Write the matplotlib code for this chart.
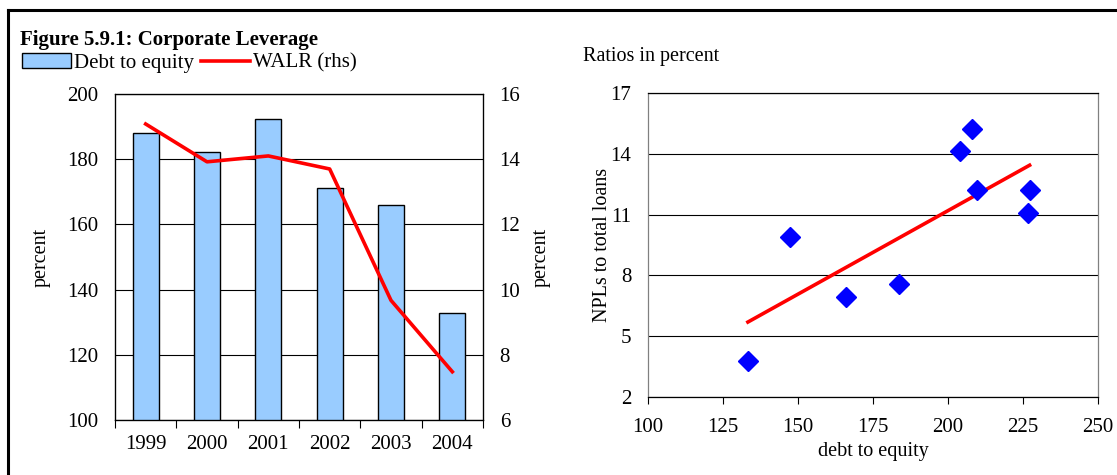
import numpy as np
import matplotlib
matplotlib.use("Agg")
import matplotlib.pyplot as plt
from matplotlib.lines import Line2D
from matplotlib.patches import Patch

plt.rcParams["font.family"] = ["Liberation Serif", "DejaVu Serif"]

# ── Data ──────────────────────────────────────────────────────────────
years        = ["1999", "2000", "2001", "2002", "2003", "2004"]
debt_equity  = [188.0, 182.1, 192.4, 171.2, 166.1, 132.8]   # lhs, percent
walr         = [15.08, 13.92, 14.10, 13.70, 9.67, 7.48]     # rhs, percent

scatter_de   = [133.3, 147.2, 165.9, 183.5, 204.1, 208.0, 209.8, 227.2, 226.8]
scatter_npl  = [3.76, 9.88, 6.92, 7.58, 14.12, 15.22, 12.23, 12.20, 11.08]

BAR_COLOR  = "#99CCFF"
LINE_COLOR = "#FF0000"
DOT_COLOR  = "#0000FF"
FS = 15      # tick labels
LFS = 14.5   # axis labels / legend

fig = plt.figure(figsize=(11.17, 4.75), dpi=100)
fig.patch.set_facecolor("white")
W, H = 1117, 475

# outer frame (top and left edges)
fig.add_artist(Line2D([8 / W, 1.0], [1 - 10 / H, 1 - 10 / H], color="black", lw=2.2,
                      transform=fig.transFigure))
fig.add_artist(Line2D([8 / W, 8 / W], [1 - 10 / H, 0.0], color="black", lw=2.2,
                      transform=fig.transFigure))

# ── Left: bars + WALR line ────────────────────────────────────────────
ax = fig.add_axes([115 / W, 1 - 420 / H, 368 / W, 326 / H])
x = np.arange(len(years))
ax.bar(x, debt_equity, width=0.42, color=BAR_COLOR, edgecolor="black", lw=1.0, zorder=2)
ax.set_xlim(-0.5, len(years) - 0.5)
ax.set_ylim(100, 200)
ax.set_yticks(np.arange(100, 201, 20))
ax.set_xticks(x)
ax.set_xticklabels(years)
ax.set_xticks(np.arange(-0.5, len(years)), minor=True)
ax.tick_params(axis="x", which="major", length=0, pad=11, labelsize=FS)
ax.tick_params(axis="x", which="minor", length=6, direction="out", width=0.8)
ax.tick_params(axis="y", length=0, pad=12, labelsize=FS)
ax.grid(axis="y", color="black", lw=0.8, zorder=0)
ax.set_axisbelow(True)
for sp in ax.spines.values():
    sp.set_color("black")
    sp.set_linewidth(0.9)
ax.set_ylabel("percent", fontsize=LFS, labelpad=12)

ax2 = ax.twinx()
ax2.plot(x, walr, color=LINE_COLOR, lw=2.6, zorder=3)
ax2.set_ylim(6, 16)
ax2.set_yticks(np.arange(6, 17, 2))
ax2.tick_params(axis="y", length=0, pad=12, labelsize=FS)
ax2.set_ylabel("percent", fontsize=LFS, labelpad=8)

fig.text(20 / W, 1 - 40 / H, "Figure 5.9.1: Corporate Leverage", fontsize=15,
         fontweight="bold", va="center", ha="left")
handles = [Patch(facecolor=BAR_COLOR, edgecolor="black", lw=1.0),
           Line2D([], [], color=LINE_COLOR, lw=2.6)]
fig.legend(handles, ["Debt to equity", "WALR (rhs)"], ncol=2, frameon=False,
           loc="center left", bbox_to_anchor=(22 / W, 1 - 63 / H), fontsize=15,
           handlelength=2.35, handleheight=0.7, handletextpad=0.15, columnspacing=0.35,
           borderaxespad=0, borderpad=0)

# ── Right: NPLs vs debt to equity ─────────────────────────────────────
bx = fig.add_axes([648 / W, 1 - 397 / H, 450 / W, 304 / H])
bx.plot(scatter_de, scatter_npl, ls="none", marker="D", markersize=10,
        color=DOT_COLOR, zorder=3)
coef = np.polyfit(scatter_de, scatter_npl, 1)
xs = np.array([min(scatter_de), max(scatter_de)])
bx.plot(xs, np.polyval(coef, xs), color=LINE_COLOR, lw=2.6, zorder=2)
bx.set_xlim(100, 250)
bx.set_ylim(2, 17)
bx.set_xticks(np.arange(100, 251, 25))
bx.set_yticks(np.arange(2, 18, 3))
bx.tick_params(axis="x", length=5, direction="out", width=0.8, pad=10, labelsize=FS)
bx.tick_params(axis="y", length=0, pad=12, labelsize=FS)
bx.grid(axis="y", color="black", lw=0.8, zorder=0)
bx.set_axisbelow(True)
bx.spines["top"].set_color("black")
bx.spines["bottom"].set_color("black")
bx.spines["left"].set_color("#808080")
bx.spines["right"].set_color("#808080")
for sp in bx.spines.values():
    sp.set_linewidth(0.9)
bx.set_xlabel("debt to equity", fontsize=LFS, labelpad=4)
bx.set_ylabel("NPLs to total loans", fontsize=LFS, labelpad=-1)
fig.text(583 / W, 1 - 56 / H, "Ratios in percent", fontsize=LFS, va="center", ha="left")

fig.savefig("out.png", dpi=100, facecolor="white")
